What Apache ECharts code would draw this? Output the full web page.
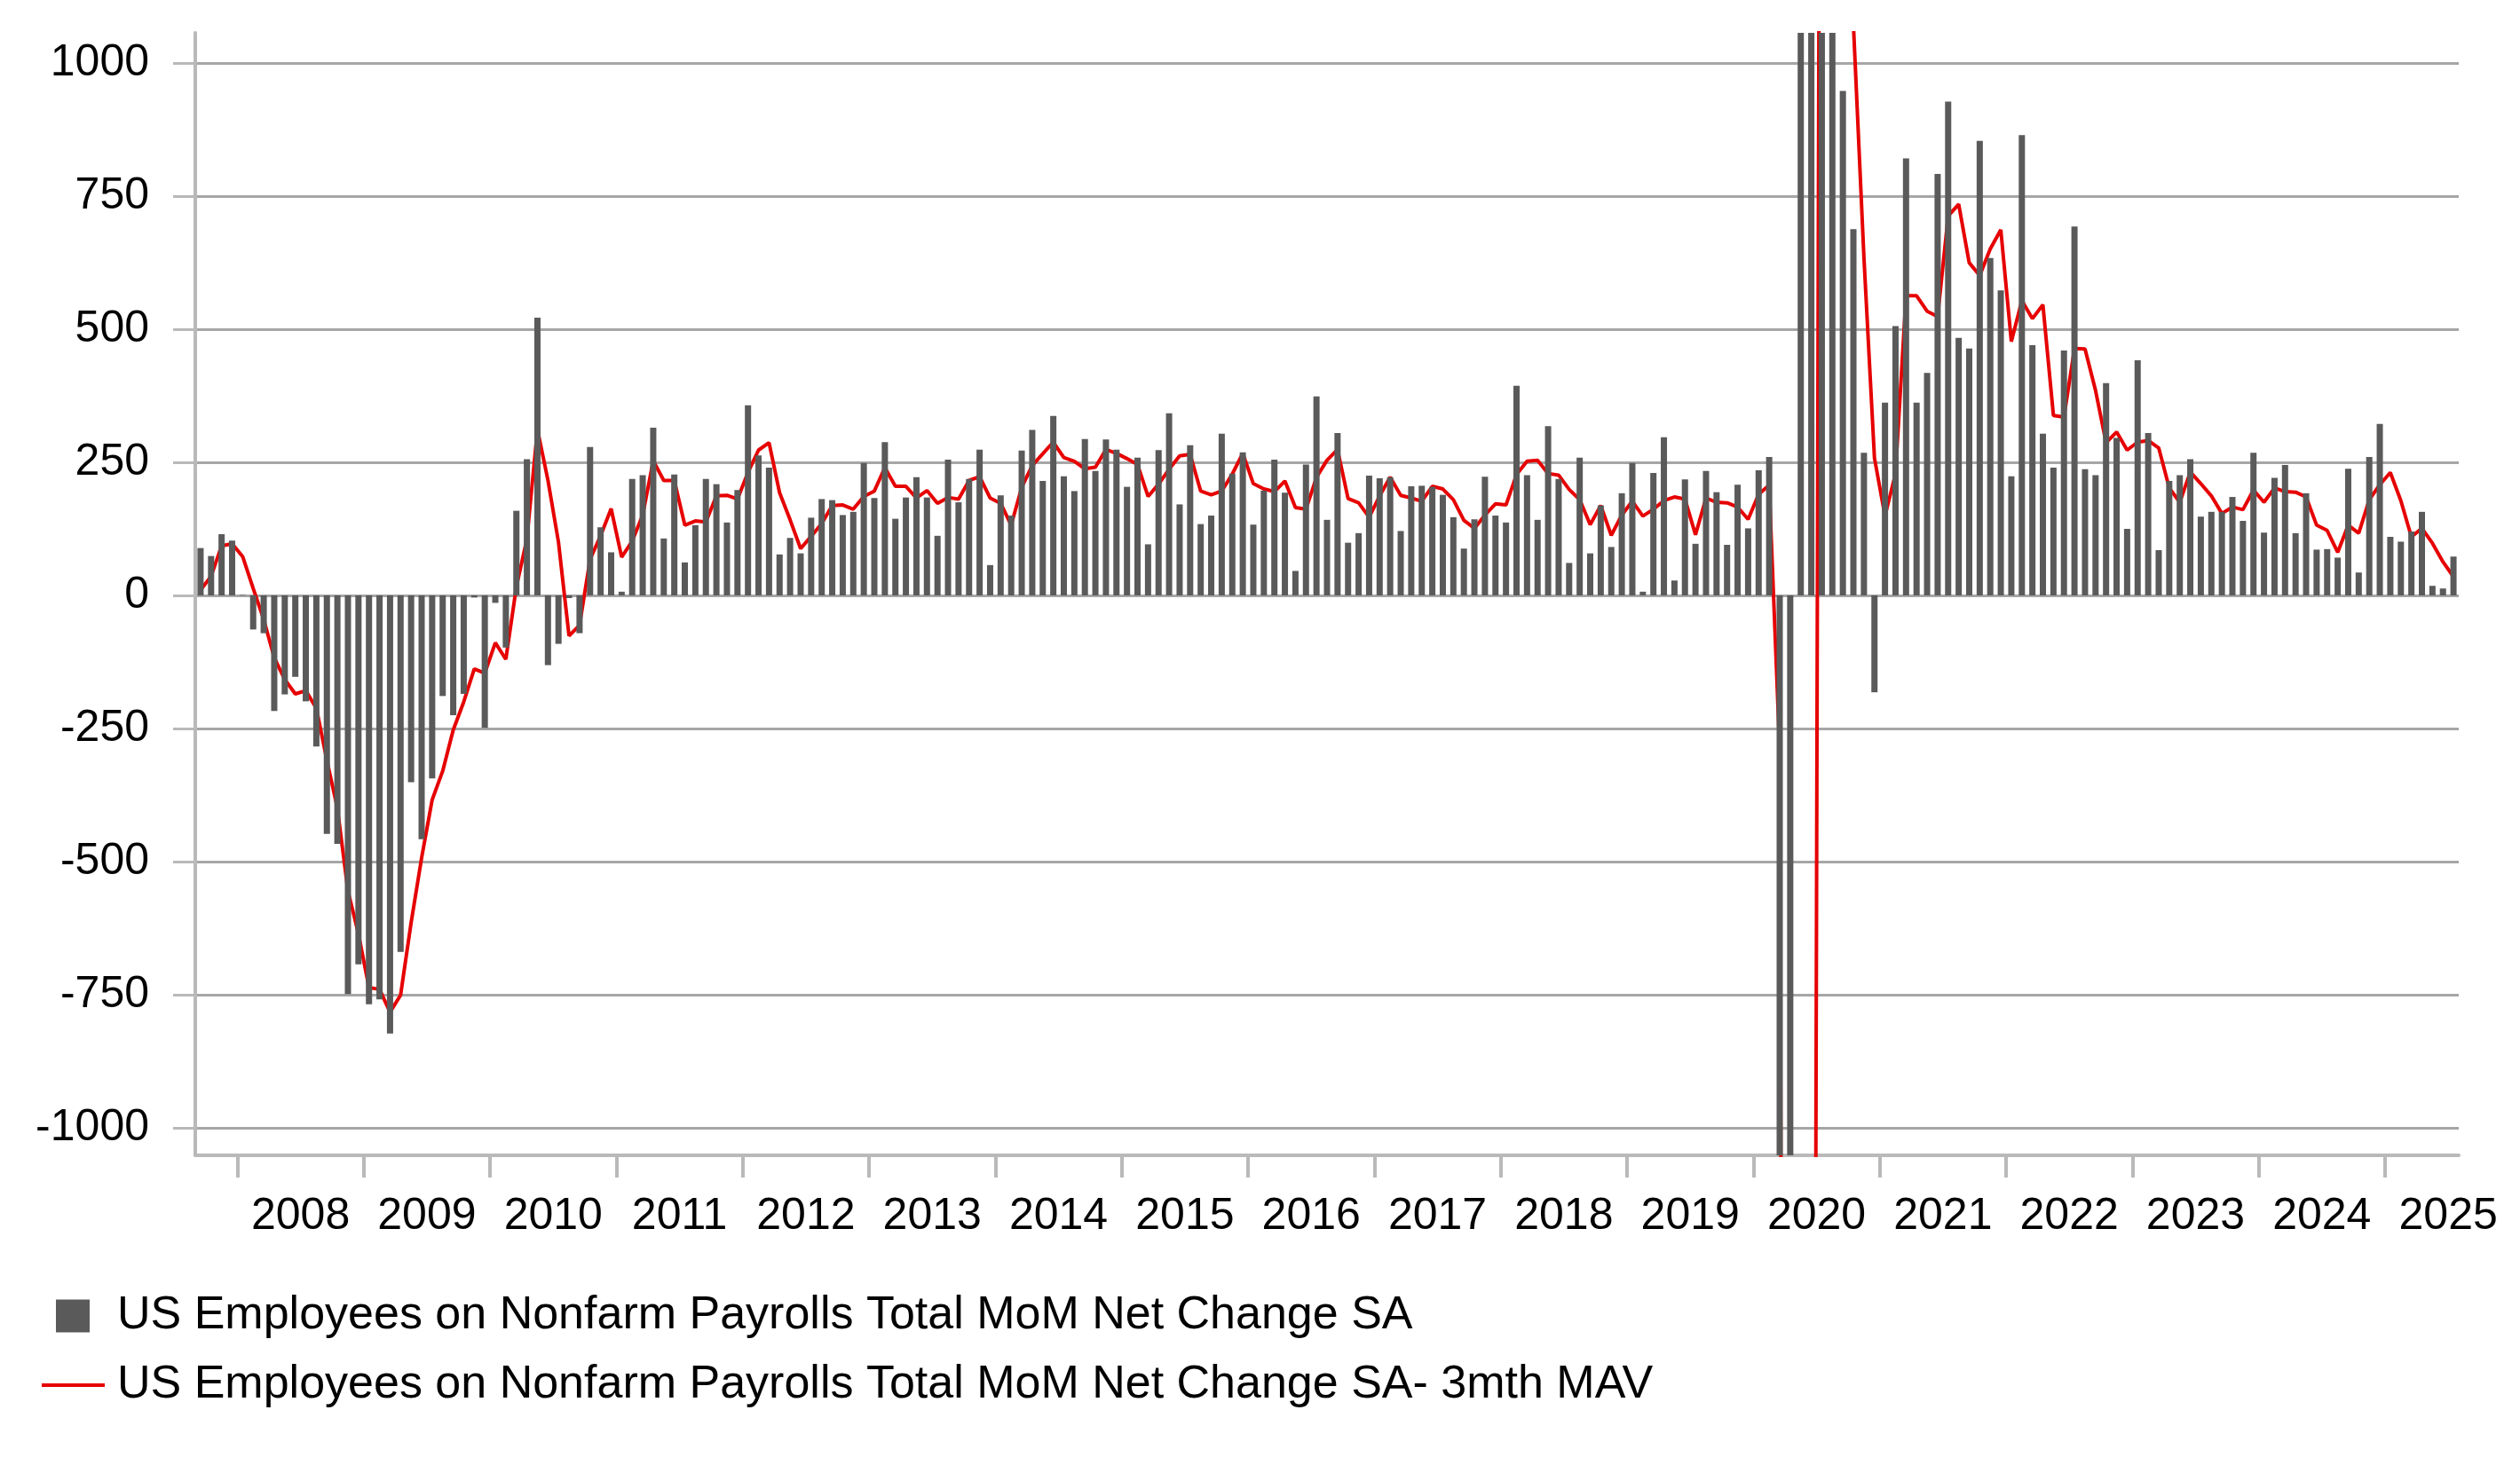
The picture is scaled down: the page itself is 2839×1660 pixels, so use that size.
<!DOCTYPE html>
<html>
<head>
<meta charset="utf-8">
<title>US Nonfarm Payrolls MoM Net Change</title>
<script src="https://cdn.jsdelivr.net/npm/echarts@6.0.0/dist/echarts.min.js"></script>
<style>
  html, body { margin: 0; padding: 0; background: #ffffff; }
  #chart { width: 2839px; height: 1660px; }
</style>
</head>
<body>
<div id="chart"></div>
<script>
// monthly net change in payrolls (thousands), Sep 2007 .. Jul 2025
const startYear = 2007;
const startMonth = 9;

const nfp2007 = [89, 74, 115, 103];
const nfp2008 = [1, -64, -71, -217, -186, -153, -199, -284, -448, -467, -749, -693];
const nfp2009 = [-768, -759, -823, -670, -351, -458, -344, -189, -225, -185, -4, -249];
const nfp2010 = [-14, -98, 159, 256, 522, -131, -91, -5, -71, 279, 128, 81];
const nfp2011 = [7, 219, 226, 315, 107, 227, 62, 132, 219, 209, 137, 198];
const nfp2012 = [357, 263, 240, 77, 108, 79, 146, 181, 179, 151, 157, 249];
const nfp2013 = [183, 288, 144, 184, 222, 184, 112, 255, 175, 219, 274, 57];
const nfp2014 = [188, 150, 272, 311, 215, 337, 224, 196, 294, 234, 293, 274];
const nfp2015 = [204, 259, 96, 273, 342, 171, 282, 134, 150, 304, 229, 269];
const nfp2016 = [133, 197, 255, 193, 46, 246, 374, 142, 305, 99, 117, 225];
const nfp2017 = [220, 222, 121, 205, 206, 204, 189, 147, 88, 143, 223, 150];
const nfp2018 = [137, 394, 226, 142, 318, 219, 61, 259, 79, 169, 91, 192];
const nfp2019 = [249, 7, 230, 297, 28, 218, 97, 234, 194, 95, 208, 126];
const nfp2020 = [235, 260, -1373, -20477, 2833, 4846, 1726, 1583, 948, 688, 268, -182];
const nfp2021 = [362, 506, 821, 362, 418, 792, 928, 484, 464, 854, 634, 573];
const nfp2022 = [224, 865, 470, 304, 240, 460, 693, 237, 226, 399, 296, 125];
const nfp2023 = [442, 305, 85, 215, 226, 256, 148, 157, 157, 185, 140, 268];
const nfp2024 = [118, 221, 245, 117, 192, 86, 87, 71, 238, 43, 260, 322];
const nfp2025 = [110, 101, 120, 157, 18, 13, 73];

// 3 month moving average as plotted (thousands)
const mav2007 = [10, 36, 93, 97];
const mav2008 = [73, 13, -45, -117, -158, -185, -179, -212, -310, -400, -555, -636];
const mav2009 = [-737, -740, -783, -751, -615, -493, -384, -330, -253, -200, -138, -146];
const mav2010 = [-89, -120, 16, 106, 312, 216, 100, -76, -56, 68, 112, 163];
const mav2011 = [72, 102, 151, 253, 216, 216, 132, 140, 138, 187, 188, 181];
const mav2012 = [231, 273, 287, 193, 142, 88, 111, 135, 169, 170, 162, 186];
const mav2013 = [196, 240, 205, 205, 183, 197, 173, 184, 181, 216, 223, 183];
const mav2014 = [173, 132, 203, 244, 266, 288, 259, 252, 238, 241, 274, 267];
const mav2015 = [257, 246, 186, 209, 237, 262, 265, 196, 189, 196, 228, 267];
const mav2016 = [210, 200, 195, 215, 165, 162, 222, 254, 274, 182, 174, 147];
const mav2017 = [187, 222, 188, 183, 177, 205, 200, 180, 141, 126, 151, 172];
const mav2018 = [170, 227, 252, 254, 229, 226, 199, 180, 133, 169, 113, 151];
const mav2019 = [177, 149, 162, 178, 185, 181, 114, 183, 175, 174, 166, 143];
const mav2020 = [190, 207, -293, -7197, -6339, -4266, 3135, 2718, 1419, 1073, 635, 258];
const mav2021 = [149, 229, 563, 563, 534, 524, 713, 735, 625, 601, 651, 687];
const mav2022 = [477, 554, 520, 546, 338, 335, 464, 463, 385, 287, 307, 273];
const mav2023 = [288, 291, 277, 202, 175, 232, 210, 187, 154, 166, 161, 198];
const mav2024 = [175, 202, 195, 194, 185, 132, 122, 81, 132, 117, 180, 208];
const mav2025 = [231, 178, 110, 126, 98, 63, 35];

const yTicks = [-1000, -750, -500, -250, 0, 250, 500, 750, 1000];
const yearLabels = ['2008', '2009', '2010', '2011', '2012', '2013', '2014', '2015', '2016',
    '2017', '2018', '2019', '2020', '2021', '2022', '2023', '2024', '2025'];

const barName = 'US Employees on Nonfarm Payrolls Total MoM Net Change SA';
const lineName = 'US Employees on Nonfarm Payrolls Total MoM Net Change SA- 3mth MAV';

const nfp = [].concat(nfp2007, nfp2008, nfp2009, nfp2010, nfp2011, nfp2012, nfp2013, nfp2014,
    nfp2015, nfp2016, nfp2017, nfp2018, nfp2019, nfp2020, nfp2021, nfp2022, nfp2023, nfp2024, nfp2025);
const mav = [].concat(mav2007, mav2008, mav2009, mav2010, mav2011, mav2012, mav2013, mav2014,
    mav2015, mav2016, mav2017, mav2018, mav2019, mav2020, mav2021, mav2022, mav2023, mav2024, mav2025);

// month categories
let months = [];
for (let i = 0; i < nfp.length; i++) {
    let m = startMonth - 1 + i;
    let y = startYear + Math.floor(m / 12);
    months.push(y + '-' + String(m % 12 + 1).padStart(2, '0'));
}
// position of first January on the month scale
const firstJan = 13 - startMonth;
const yearTickPos = yearLabels.map((y, i) => firstJan + 12 * i);
const yearLabelPos = yearLabels.map((y, i) => firstJan + 12 * i + 6);

const fontFamily = '"Liberation Sans", Arial, sans-serif';
const axisGrey = '#b9b9b9';

let chart = echarts.init(document.getElementById('chart'));
let option = {
    animation: false,
    backgroundColor: '#ffffff',
    textStyle: { fontFamily: fontFamily },
    grid: {
        left: 220,
        right: 69,
        top: 37,
        bottom: 358
    },
    legend: [
        {
            data: [{ name: barName, icon: 'rect' }],
            left: 63,
            top: 1457,
            padding: 0,
            itemWidth: 38,
            itemHeight: 37,
            selectedMode: false,
            textStyle: {
                fontSize: 52,
                color: '#000000',
                fontFamily: fontFamily,
                padding: [0, 0, 0, 26]
            }
        },
        {
            data: [{ name: lineName, icon: 'rect' }],
            left: 47,
            top: 1535,
            padding: 0,
            itemWidth: 71,
            itemHeight: 4,
            selectedMode: false,
            textStyle: {
                fontSize: 52,
                color: '#000000',
                fontFamily: fontFamily,
                padding: [0, 0, 0, 9]
            }
        }
    ],
    xAxis: [
        {
            type: 'category',
            data: months,
            boundaryGap: true,
            axisLine: {
                show: true,
                onZero: false,
                lineStyle: { color: axisGrey, width: 4 }
            },
            axisTick: { show: false },
            axisLabel: { show: false },
            splitLine: { show: false }
        },
        {
            type: 'value',
            min: 0,
            max: months.length,
            position: 'bottom',
            axisLine: { show: false, onZero: false },
            splitLine: { show: false },
            axisTick: {
                show: true,
                customValues: yearTickPos,
                length: 25,
                lineStyle: { color: axisGrey, width: 4 }
            },
            axisLabel: {
                show: true,
                customValues: yearLabelPos,
                margin: 44,
                fontSize: 50,
                color: '#000000',
                fontFamily: fontFamily,
                formatter: function (v) {
                    return yearLabels[Math.round((v - firstJan - 6) / 12)];
                }
            }
        }
    ],
    yAxis: {
        type: 'value',
        min: -1052,
        max: 1057,
        axisLine: {
            show: true,
            lineStyle: { color: axisGrey, width: 4 }
        },
        axisTick: {
            show: true,
            customValues: yTicks,
            length: 25,
            lineStyle: { color: axisGrey, width: 3 }
        },
        axisLabel: {
            customValues: yTicks,
            margin: 52,
            fontSize: 50,
            color: '#000000',
            fontFamily: fontFamily,
            formatter: function (v) {
                return String(v);
            }
        },
        splitLine: {
            show: true,
            lineStyle: { color: '#a6a6a6', width: 3 }
        }
    },
    series: [
        {
            name: lineName,
            type: 'line',
            z: 1,
            data: mav,
            symbol: 'none',
            clip: true,
            itemStyle: { color: '#e60000' },
            lineStyle: { color: '#e60000', width: 4 }
        },
        {
            name: barName,
            type: 'bar',
            z: 2,
            data: nfp,
            barWidth: 7,
            clip: true,
            itemStyle: { color: '#5a5a5a' }
        }
    ]
};
chart.setOption(option);
window.addEventListener('resize', function () {
    chart.resize();
});
</script>
</body>
</html>
